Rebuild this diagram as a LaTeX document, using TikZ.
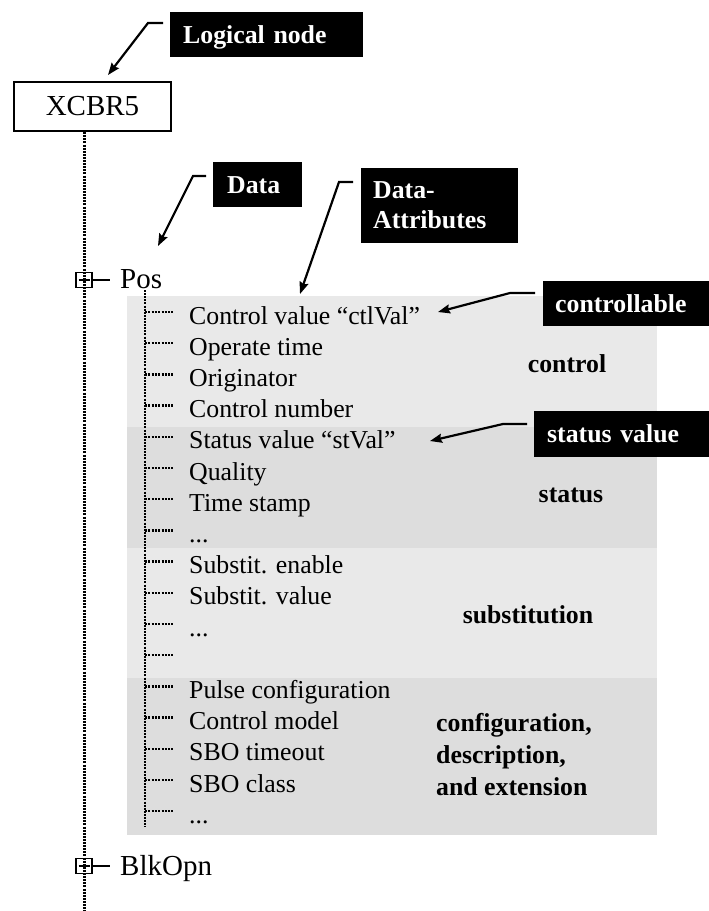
\documentclass[tikz,border=0pt]{standalone}
\usepackage{fontspec}
\setmainfont{Liberation Serif}
\usetikzlibrary{arrows.meta,calc}

\definecolor{ctlgrey}{HTML}{E9E9E9}
\definecolor{stgrey}{HTML}{DDDDDD}

\newcommand\attrfont{\fontsize{25.8}{30}\selectfont}
\newcommand\treefont{\fontsize{29}{34}\selectfont}
\newcommand\tagfont{\fontsize{25.8}{30}\selectfont\bfseries}
\newcommand\grpfont{\fontsize{25.8}{32}\selectfont\bfseries}

\begin{document}
\begin{tikzpicture}[x=1pt,y=-1pt,
  tag/.style={fill=black,text=white,font=\tagfont,align=left,
              inner ysep=0pt,anchor=north west},
  tagline/.style={tag,text height=17.4pt,text depth=0pt},
  leader/.style={line width=2.2pt,-{Stealth[length=12pt,width=9pt,inset=1.5pt]}},
  lnbox/.style={draw,line width=2.3pt,inner sep=0pt,font=\treefont},
  expander/.style={draw,line width=1.3pt,minimum width=16pt,minimum height=15pt,
                   inner sep=0pt,
                   path picture={\draw[line width=2pt]
                     ([xshift=-5.5pt]path picture bounding box.center) --
                     ([xshift=5.5pt]path picture bounding box.center);}},
  treelabel/.style={font=\treefont,anchor=base west,inner sep=0pt},
  branch/.style={line width=1.2pt,shorten >=10pt},
  mainline/.style={line width=3pt,dash pattern=on 2pt off 1.1pt},
  subline/.style={line width=2.8pt,dash pattern=on 2pt off 1.1pt},
  twig/.style={line width=2.4pt,dash pattern=on 2pt off 1.3pt},
  attr/.style={anchor=west,font=\attrfont,inner sep=0pt,
               text height=24pt,text depth=0pt},
  sect/.style={font=\grpfont,inner sep=0pt,anchor=base}
]
\useasboundingbox (0,0) rectangle (709,911);

% shaded groups of attributes
\fill[ctlgrey] (127,296) rectangle (657,427);
\fill[stgrey]  (127,427) rectangle (657,548);
\fill[ctlgrey] (127,548) rectangle (657,678);
\fill[stgrey]  (127,678) rectangle (657,835);

% logical node
\node[lnbox,minimum width=157pt,minimum height=49pt] (xcbr) at (92.5,106.5) {XCBR5};

% data objects
\node[expander] (posbox) at (84,280) {};
\node[treelabel] (pos) at (120,288) {Pos};
\draw[branch] (posbox.east) -- (posbox.east -| pos.west);

\node[expander] (blkbox) at (84,866) {};
\node[treelabel] (blk) at (120,875) {BlkOpn};
\draw[branch] (blkbox.east) -- (blkbox.east -| blk.west);

% tree spine
\coordinate (treeend) at (84,911);
\draw[mainline] (xcbr.south -| posbox.center) -- (treeend);

% data attributes of Pos
\coordinate (subtop) at (145,290);
\coordinate (subend) at (145,827);
\draw[subline] (subtop) -- (subend);
\foreach \i/\t in {0/{Control value “ctlVal”},1/{Operate time},2/{Originator},
                   3/{Control number},4/{Status value “stVal”},5/{Quality},
                   6/{Time stamp},7/{...},8/{Substit. enable},9/{Substit. value},
                   10/{...},11/{},12/{Pulse configuration},13/{Control model},
                   14/{SBO timeout},15/{SBO class},16/{...}}{
  \node[attr] (a\i) at (189,{312+31.2*\i}) {\t};
  \draw[twig] (subtop |- a\i.west) -- ++(28,0);
}

% group names
\node[sect] (gctl) at (567,372) {control};
\node[sect] (gst)  at (571,502) {status};
\node[sect] (gsub) at (528,623) {substitution};
\node[sect,anchor=base west,align=left] (gcfg) at (436,795)
  {configuration,\\description,\\and extension};

% callouts
\node[tagline,text width=167pt,inner xsep=13pt,minimum height=45pt] (tagLN) at (170,12) {Logical node};
\node[tagline,text width=61pt,inner xsep=14pt,minimum height=45pt] (tagD) at (213,162) {Data};
\node[tag,text width=133pt,inner xsep=12pt,minimum height=75pt] (tagDA) at (361,168) {Data-\\Attributes};
\node[tagline,text width=142pt,inner xsep=12pt,minimum height=45pt] (tagC) at (543,281) {controllable};
\node[tagline,text width=149pt,inner xsep=13pt,minimum height=46pt] (tagS) at (534,411) {status value};

\coordinate (tipLN) at (108,75);
\coordinate (tipD)  at (158,246);
\coordinate (tipDA) at (300,294);
\coordinate (tipC)  at (438,312);
\coordinate (tipS)  at (430,441);

\draw[leader] ($(tagLN.north west)+(-7,11)$) -- ++(-15,0) -- (tipLN);
\draw[leader] ($(tagD.north west)+(-7,14)$)  -- ++(-13,0) -- (tipD);
\draw[leader] ($(tagDA.north west)+(-8,14)$) -- ++(-14,0) -- (tipDA);
\draw[leader] ($(tagC.north west)+(-8,12)$)  -- ++(-25,0) -- (tipC);
\draw[leader] ($(tagS.north west)+(-7,13)$)  -- ++(-24,0) -- (tipS);
\end{tikzpicture}
\end{document}
